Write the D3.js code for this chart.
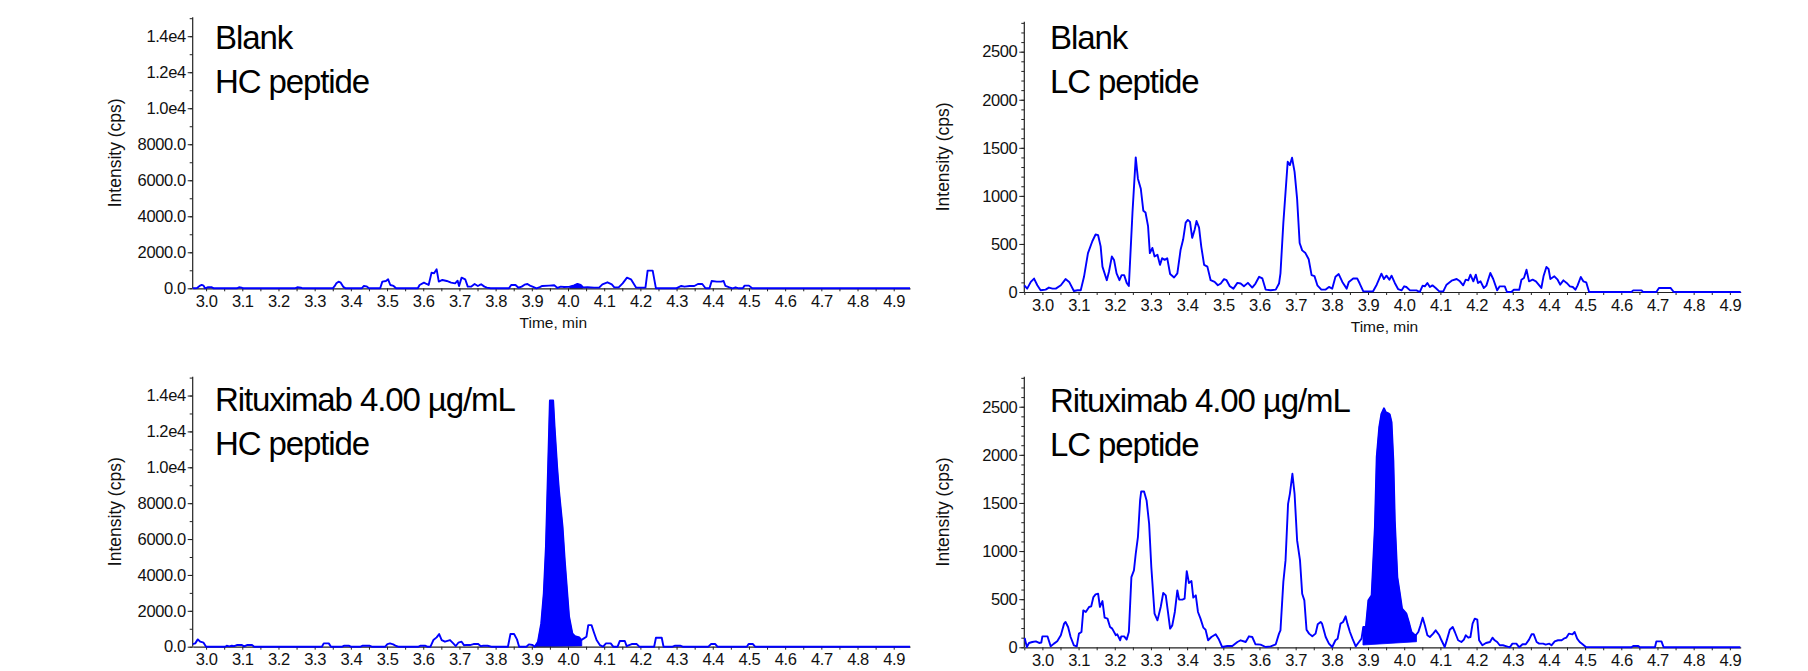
<!DOCTYPE html>
<html>
<head>
<meta charset="utf-8">
<script src="https://cdn.jsdelivr.net/npm/d3@7"></script>
<style>
  html, body { margin: 0; padding: 0; background: #fff; }
  svg { display: block; }
  text { font-family: "Liberation Sans", Arial, sans-serif; }
</style>
</head>
<body>
<svg id="chart" width="1808" height="671"></svg>
<script>
// ---------------- DATA ----------------
const timeTicks = [3.0, 3.1, 3.2, 3.3, 3.4, 3.5, 3.6, 3.7, 3.8, 3.9, 4.0, 4.1, 4.2, 4.3, 4.4, 4.5, 4.6, 4.7, 4.8, 4.9];
const hcTickValues = [0, 2000, 4000, 6000, 8000, 10000, 12000, 14000];
const hcTickLabels = ["0.0", "2000.0", "4000.0", "6000.0", "8000.0", "1.0e4", "1.2e4", "1.4e4"];
const lcTickValues = [0, 500, 1000, 1500, 2000, 2500];
const lcTickLabels = ["0", "500", "1000", "1500", "2000", "2500"];

const titles = [
  ["Blank", "HC peptide"],
  ["Blank", "LC peptide"],
  ["Rituximab 4.00 µg/mL", "HC peptide"],
  ["Rituximab 4.00 µg/mL", "LC peptide"]
];

// [time (min), intensity (cps)]
const blankHC = [[2.963,0],[2.975,20],[2.982,130],[2.988,185],[2.993,150],[2.997,0],[3.004,55],[3.016,55],[3.021,0],[3.085,0],[3.091,55],[3.098,40],[3.102,0],[3.245,0],[3.252,55],[3.262,30],[3.268,0],[3.350,0],[3.355,120],[3.360,277],[3.366,370],[3.372,314],[3.379,80],[3.386,0],[3.430,0],[3.436,130],[3.443,110],[3.450,0],[3.481,0],[3.487,370],[3.497,407],[3.503,500],[3.509,185],[3.518,130],[3.525,0],[3.585,0],[3.590,185],[3.602,314],[3.609,240],[3.615,185],[3.623,870],[3.630,833],[3.637,1055],[3.643,370],[3.653,463],[3.665,407],[3.677,314],[3.688,277],[3.695,425],[3.699,130],[3.706,592],[3.716,500],[3.723,92],[3.732,92],[3.742,240],[3.751,130],[3.756,185],[3.760,222],[3.769,92],[3.776,40],[3.786,0],[3.837,0],[3.843,185],[3.855,185],[3.863,30],[3.872,92],[3.880,200],[3.888,240],[3.895,150],[3.902,92],[3.913,0],[3.922,60],[3.929,130],[3.948,148],[3.962,166],[3.971,20],[3.980,92],[3.989,70],[4.003,80],[4.017,166],[4.026,240],[4.035,185],[4.042,50],[4.054,60],[4.072,40],[4.086,40],[4.095,222],[4.109,333],[4.121,222],[4.128,50],[4.140,50],[4.151,277],[4.163,592],[4.174,500],[4.188,40],[4.214,40],[4.220,980],[4.234,980],[4.243,0],[4.299,0],[4.313,130],[4.322,90],[4.336,130],[4.349,130],[4.359,240],[4.371,240],[4.380,0],[4.391,0],[4.397,407],[4.411,370],[4.423,370],[4.430,407],[4.435,130],[4.446,50],[4.455,0],[4.463,55],[4.472,0],[4.483,0],[4.488,148],[4.500,148],[4.509,0],[4.945,0]];

const blankLC = [[2.950,70],[2.958,35],[2.968,105],[2.977,140],[2.986,70],[2.995,18],[3.009,25],[3.018,46],[3.028,35],[3.037,35],[3.051,70],[3.064,134],[3.074,105],[3.087,10],[3.097,18],[3.106,18],[3.115,158],[3.126,405],[3.138,528],[3.147,598],[3.154,591],[3.161,475],[3.166,264],[3.178,123],[3.184,211],[3.192,370],[3.198,334],[3.205,194],[3.213,123],[3.219,176],[3.226,176],[3.233,95],[3.239,63],[3.249,827],[3.258,1401],[3.264,1179],[3.272,1074],[3.279,845],[3.285,827],[3.292,686],[3.297,405],[3.304,458],[3.310,370],[3.318,387],[3.325,282],[3.331,352],[3.338,334],[3.345,352],[3.353,187],[3.364,151],[3.373,194],[3.382,440],[3.389,546],[3.396,722],[3.402,750],[3.408,729],[3.414,563],[3.421,651],[3.426,739],[3.433,669],[3.439,475],[3.447,282],[3.456,264],[3.465,123],[3.476,105],[3.485,70],[3.493,88],[3.502,134],[3.509,123],[3.518,60],[3.528,35],[3.539,95],[3.548,88],[3.557,60],[3.568,95],[3.580,46],[3.589,88],[3.599,158],[3.608,141],[3.617,25],[3.631,18],[3.645,25],[3.654,88],[3.658,194],[3.666,722],[3.678,1355],[3.684,1320],[3.690,1397],[3.697,1250],[3.704,968],[3.711,510],[3.718,433],[3.727,405],[3.736,341],[3.744,176],[3.752,165],[3.760,70],[3.771,25],[3.783,25],[3.792,53],[3.801,35],[3.810,158],[3.819,187],[3.829,105],[3.841,35],[3.847,105],[3.853,123],[3.859,141],[3.870,141],[3.877,88],[3.887,7],[3.914,7],[3.924,76],[3.937,191],[3.944,135],[3.951,170],[3.959,128],[3.965,170],[3.974,94],[3.983,31],[3.993,17],[4.000,59],[4.006,52],[4.016,17],[4.034,17],[4.043,0],[4.051,66],[4.057,59],[4.064,94],[4.071,52],[4.078,69],[4.087,42],[4.097,7],[4.108,7],[4.117,76],[4.131,118],[4.145,135],[4.154,111],[4.163,69],[4.170,128],[4.177,121],[4.183,180],[4.191,111],[4.198,180],[4.204,94],[4.211,111],[4.220,42],[4.227,66],[4.238,198],[4.246,135],[4.257,17],[4.264,59],[4.278,59],[4.284,0],[4.296,0],[4.303,24],[4.318,24],[4.324,128],[4.331,146],[4.338,232],[4.345,111],[4.355,128],[4.364,111],[4.379,42],[4.385,163],[4.393,260],[4.399,239],[4.404,135],[4.415,163],[4.424,128],[4.431,76],[4.440,121],[4.449,94],[4.458,59],[4.466,52],[4.473,24],[4.479,66],[4.488,156],[4.495,111],[4.503,101],[4.511,0],[4.628,0],[4.633,17],[4.656,17],[4.660,0],[4.697,0],[4.704,42],[4.736,42],[4.745,0],[4.930,0]];

const rituxHC = [[2.963,148],[2.970,185],[2.977,408],[2.984,278],[2.993,222],[3.000,0],[3.053,0],[3.057,55],[3.064,20],[3.071,55],[3.078,30],[3.085,92],[3.099,92],[3.105,20],[3.113,92],[3.127,92],[3.133,0],[3.320,0],[3.325,185],[3.339,185],[3.345,0],[3.376,0],[3.382,55],[3.394,55],[3.400,0],[3.427,0],[3.433,55],[3.451,55],[3.458,0],[3.495,0],[3.501,148],[3.508,185],[3.517,130],[3.525,40],[3.531,0],[3.587,0],[3.593,55],[3.605,55],[3.611,0],[3.620,0],[3.628,370],[3.637,519],[3.644,705],[3.651,370],[3.660,278],[3.674,370],[3.683,185],[3.690,37],[3.697,222],[3.706,278],[3.713,74],[3.718,92],[3.729,92],[3.739,148],[3.752,148],[3.759,30],[3.766,55],[3.778,55],[3.788,0],[3.834,0],[3.841,705],[3.851,705],[3.859,408],[3.865,0],[3.885,0],[3.892,130],[3.902,92],[3.908,0],[3.917,278],[3.926,1298],[3.933,2966],[3.939,5562],[3.943,8528],[3.948,12236],[3.950,13720],[3.959,13720],[3.963,12236],[3.970,10012],[3.975,8714],[3.985,6674],[3.991,4820],[3.998,2966],[4.003,1669],[4.012,742],[4.019,593],[4.031,519],[4.037,370],[4.044,463],[4.051,556],[4.056,1205],[4.065,1205],[4.071,834],[4.079,370],[4.088,92],[4.097,0],[4.105,185],[4.118,185],[4.125,0],[4.137,0],[4.143,315],[4.157,315],[4.162,30],[4.169,92],[4.176,148],[4.190,148],[4.197,0],[4.238,0],[4.243,500],[4.259,500],[4.264,0],[4.289,0],[4.296,55],[4.310,55],[4.317,0],[4.388,0],[4.395,148],[4.407,148],[4.413,0],[4.494,0],[4.499,148],[4.511,148],[4.517,0],[4.945,0]];

const rituxLC = [[2.951,97],[2.957,3],[2.963,45],[2.972,55],[2.982,62],[2.991,45],[2.997,50],[3.000,114],[3.014,114],[3.023,10],[3.032,38],[3.041,62],[3.051,125],[3.060,246],[3.064,263],[3.071,211],[3.078,107],[3.087,21],[3.095,10],[3.101,142],[3.108,159],[3.113,384],[3.120,367],[3.129,419],[3.135,426],[3.141,522],[3.147,550],[3.154,557],[3.159,419],[3.166,481],[3.172,308],[3.180,298],[3.187,211],[3.193,194],[3.203,125],[3.207,135],[3.215,73],[3.218,114],[3.226,114],[3.233,80],[3.239,159],[3.246,730],[3.253,799],[3.258,972],[3.264,1145],[3.270,1526],[3.273,1619],[3.281,1619],[3.288,1526],[3.295,1284],[3.301,837],[3.310,349],[3.318,280],[3.327,419],[3.334,564],[3.341,540],[3.347,367],[3.353,194],[3.359,228],[3.366,367],[3.373,592],[3.378,495],[3.387,495],[3.393,505],[3.399,792],[3.405,668],[3.412,689],[3.417,516],[3.424,540],[3.430,367],[3.437,298],[3.445,204],[3.451,183],[3.458,73],[3.467,107],[3.479,135],[3.488,80],[3.497,3],[3.511,14],[3.525,14],[3.539,55],[3.548,73],[3.562,55],[3.571,114],[3.580,107],[3.589,31],[3.603,28],[3.617,3],[3.631,10],[3.645,31],[3.654,142],[3.658,176],[3.666,682],[3.672,903],[3.679,1491],[3.684,1595],[3.691,1803],[3.697,1595],[3.704,1111],[3.712,903],[3.718,557],[3.724,488],[3.730,183],[3.737,142],[3.746,114],[3.755,142],[3.761,239],[3.769,263],[3.773,246],[3.783,107],[3.792,38],[3.801,3],[3.810,73],[3.816,90],[3.824,246],[3.831,263],[3.838,322],[3.843,246],[3.850,159],[3.857,90],[3.866,10],[3.875,55],[3.882,90],[3.887,211],[3.894,211],[3.901,488],[3.910,540],[3.919,1249],[3.924,1976],[3.931,2287],[3.937,2425],[3.944,2484],[3.949,2443],[3.956,2432],[3.960,2419],[3.965,2339],[3.970,1941],[3.974,1318],[3.981,730],[3.988,557],[3.994,401],[4.002,367],[4.006,349],[4.014,246],[4.020,159],[4.027,135],[4.032,125],[4.039,159],[4.045,228],[4.051,308],[4.057,228],[4.064,125],[4.071,107],[4.080,142],[4.087,176],[4.097,125],[4.103,73],[4.112,3],[4.119,90],[4.126,183],[4.134,211],[4.140,159],[4.149,73],[4.158,55],[4.165,80],[4.170,125],[4.177,100],[4.183,107],[4.189,246],[4.195,298],[4.202,287],[4.207,73],[4.216,21],[4.226,45],[4.237,55],[4.244,100],[4.250,73],[4.257,55],[4.264,21],[4.273,21],[4.283,10],[4.292,0],[4.299,38],[4.310,38],[4.318,0],[4.327,31],[4.336,31],[4.345,80],[4.352,135],[4.358,135],[4.366,55],[4.373,38],[4.384,38],[4.391,28],[4.401,38],[4.407,21],[4.416,62],[4.425,73],[4.435,73],[4.441,90],[4.448,100],[4.455,142],[4.465,135],[4.471,159],[4.478,90],[4.485,55],[4.493,31],[4.502,3],[4.628,0],[4.633,14],[4.647,14],[4.651,0],[4.693,0],[4.697,62],[4.711,62],[4.717,0],[4.929,0]];

// integrated peak regions: [start time, end time, baseline intensity at start, baseline intensity at end]
const blankHCPeak = [4.005, 4.040, 0, 0];
const rituxHCPeak = [3.908, 4.038, 0, 40];
const rituxLCPeak = [3.886, 4.034, 24, 58];

// ---------------- DRAW ----------------
const svg = d3.select("#chart");
const BLUE = "#0000ff";

function interp(data, t) {
  for (let i = 1; i < data.length; i++) {
    if (data[i][0] >= t) {
      const a = data[i - 1], b = data[i];
      const f = (t - a[0]) / (b[0] - a[0]);
      return a[1] + f * (b[1] - a[1]);
    }
  }
  return data[data.length - 1][1];
}

function drawPanel(cfg) {
  const g = svg.append("g");
  const x = d3.scaleLinear().domain(cfg.tDomain).range([cfg.left, cfg.right]);
  const y = d3.scaleLinear().domain([0, cfg.vMax]).range([cfg.base, cfg.top]);

  // peak fill
  if (cfg.peak) {
    const [t0, t1, b0, b1] = cfg.peak;
    const pts = [[t0, interp(cfg.data, t0)]]
      .concat(cfg.data.filter(d => d[0] > t0 && d[0] < t1))
      .concat([[t1, interp(cfg.data, t1)]]);
    const poly = pts.map(d => [x(d[0]), y(d[1])]);
    poly.push([x(t1), y(b1)]);
    poly.push([x(t0), y(b0)]);
    g.append("path")
      .attr("d", d3.line()(poly) + "Z")
      .attr("fill", BLUE)
      .attr("stroke", BLUE)
      .attr("stroke-width", 0.8);
  }

  // x axis
  const xMinor = d3.range(2.95, 4.951, 0.05).filter(t => t >= cfg.tDomain[0] - 1e-6 && t <= cfg.tDomain[1] + 1e-6);
  g.append("g")
    .attr("transform", `translate(0,${cfg.base})`)
    .call(d3.axisBottom(x).tickValues(xMinor).tickSize(3).tickFormat(""))
    .call(a => a.select(".domain").remove())
    .call(a => a.selectAll("line").attr("stroke", "#222"));
  g.append("g")
    .attr("transform", `translate(0,${cfg.base})`)
    .call(d3.axisBottom(x).tickValues(timeTicks).tickSize(0).tickPadding(7).tickFormat(d => d.toFixed(1)))
    .call(a => a.select(".domain").attr("stroke", "#222").attr("stroke-width", 1.2))
    .call(a => a.selectAll("text")
      .attr("font-family", "Liberation Sans, Arial, sans-serif")
      .attr("font-size", 16.5).attr("letter-spacing", -0.4).attr("fill", "#111"));

  // y axis
  g.append("g")
    .attr("transform", `translate(${cfg.left},0)`)
    .call(d3.axisLeft(y).tickValues(d3.range(0, cfg.vMax, cfg.minorStep)).tickSize(3).tickFormat(""))
    .call(a => a.select(".domain").remove())
    .call(a => a.selectAll("line").attr("stroke", "#222"));
  g.append("g")
    .attr("transform", `translate(${cfg.left},0)`)
    .call(d3.axisLeft(y).tickValues(cfg.tickValues).tickSize(5).tickPadding(2)
      .tickFormat((d, i) => cfg.tickLabels[i]))
    .call(a => a.select(".domain").attr("d", `M0,${cfg.base}V${cfg.top}`).attr("stroke", "#222").attr("stroke-width", 1.2))
    .call(a => a.selectAll("line").attr("stroke", "#222"))
    .call(a => a.selectAll("text")
      .attr("font-family", "Liberation Sans, Arial, sans-serif")
      .attr("font-size", 16.5).attr("letter-spacing", -0.4).attr("fill", "#111"));

  // trace
  g.append("path")
    .datum(cfg.data)
    .attr("d", d3.line().x(d => x(d[0])).y(d => y(d[1])))
    .attr("fill", "none")
    .attr("stroke", BLUE)
    .attr("stroke-width", 1.9)
    .attr("stroke-linejoin", "round");

  // y label
  g.append("text")
    .attr("transform", `translate(${cfg.ylabelX},${(cfg.top + cfg.base) / 2}) rotate(-90)`)
    .attr("text-anchor", "middle")
    .attr("font-size", 17.5)
    .attr("fill", "#111")
    .text("Intensity (cps)");

  // x label
  if (cfg.xlabel) {
    g.append("text")
      .attr("x", (cfg.left + cfg.right) / 2 + 2)
      .attr("y", cfg.base + 40)
      .attr("text-anchor", "middle")
      .attr("font-size", 15.5)
      .attr("fill", "#111")
      .text("Time, min");
  }

  // title
  cfg.title.forEach((line, i) => {
    g.append("text")
      .attr("x", cfg.titleX)
      .attr("y", cfg.titleY + i * 44)
      .attr("font-size", 33)
      .attr("letter-spacing", -1.1)
      .attr("fill", "#000")
      .text(line);
  });
}

const panels = [
  { data: blankHC, peak: blankHCPeak, title: titles[0], tDomain: [2.963, 4.945], vMax: 15050,
    left: 192.7, right: 910, top: 17.3, base: 288.3, tickValues: hcTickValues, tickLabels: hcTickLabels,
    minorStep: 1000, ylabelX: 121, xlabel: true, titleX: 215, titleY: 49.3 },
  { data: blankLC, peak: null, title: titles[1], tDomain: [2.950, 4.930], vMax: 2812,
    left: 1024.3, right: 1740.7, top: 21.7, base: 292, tickValues: lcTickValues, tickLabels: lcTickLabels,
    minorStep: 100, ylabelX: 949, xlabel: true, titleX: 1050, titleY: 49.3 },
  { data: rituxHC, peak: rituxHCPeak, title: titles[2], tDomain: [2.963, 4.945], vMax: 15050,
    left: 192.7, right: 910, top: 376.7, base: 646.7, tickValues: hcTickValues, tickLabels: hcTickLabels,
    minorStep: 1000, ylabelX: 121, xlabel: false, titleX: 215, titleY: 411 },
  { data: rituxLC, peak: rituxLCPeak, title: titles[3], tDomain: [2.950, 4.930], vMax: 2812,
    left: 1024.3, right: 1740.7, top: 376.7, base: 647.3, tickValues: lcTickValues, tickLabels: lcTickLabels,
    minorStep: 100, ylabelX: 949, xlabel: false, titleX: 1050, titleY: 412.3 }
];

panels.forEach(drawPanel);
</script>
</body>
</html>
